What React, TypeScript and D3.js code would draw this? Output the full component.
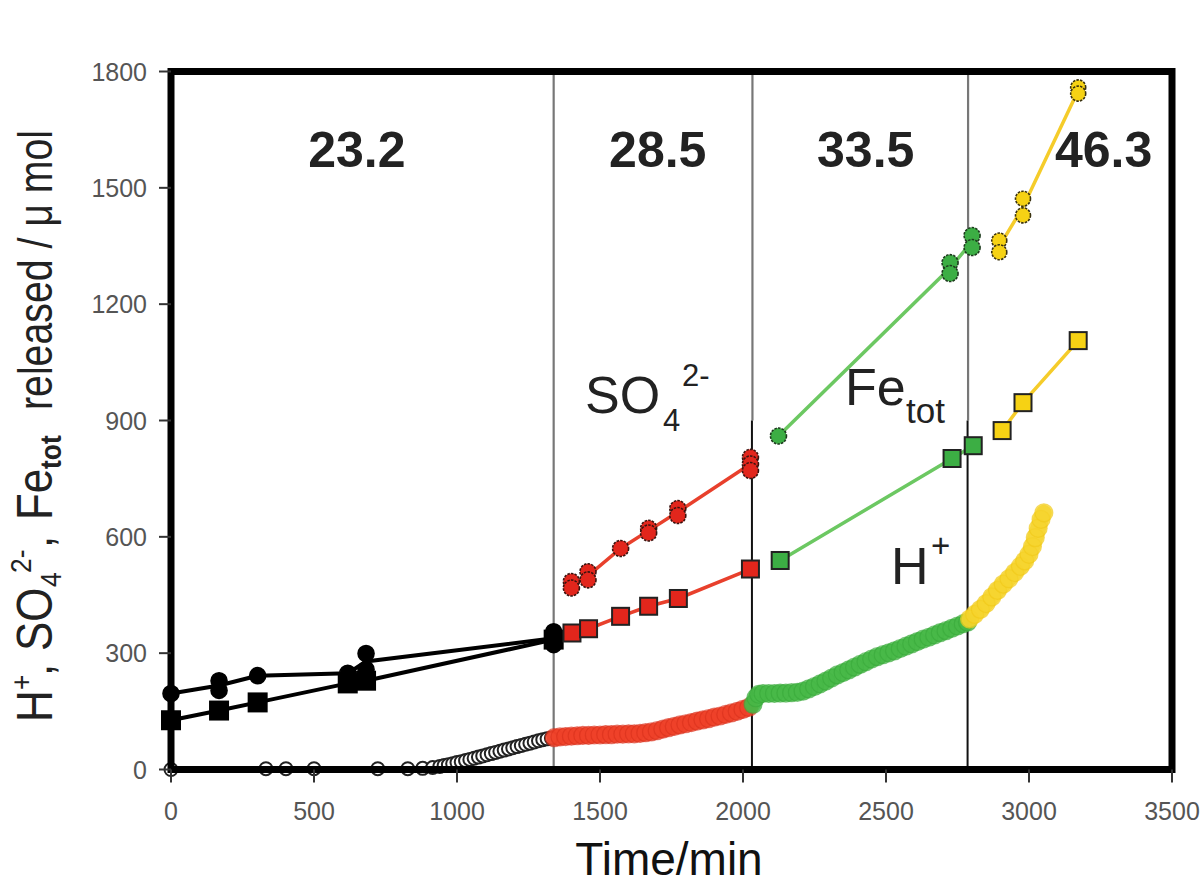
import React from 'react';
import * as d3 from 'd3';

type P = [number, number];

const xTicks = [0, 500, 1000, 1500, 2000, 2500, 3000, 3500];
const yTicks = [0, 300, 600, 900, 1200, 1500, 1800];

const dividerTimes = [1338, 2033, 2787];
const dividerBlackBelow = [0, 900, 900];
const regionLabels = ['23.2', '28.5', '33.5', '46.3'];
const regionCenters = [650, 1702, 2429, 3261];

// SO4 2- (circles) and Fe_tot (squares) per temperature segment
const so4Black: P[] = [[0, 196], [168, 229], [168, 204], [303, 242], [618, 248], [682, 299], [682, 258], [1338, 355], [1338, 322]];
const feBlack: P[] = [[0, 127], [168, 152], [303, 173], [618, 222], [682, 229], [1338, 335]];
const so4Red: P[] = [[1400, 485], [1400, 468], [1458, 510], [1458, 489], [1572, 570], [1670, 622], [1670, 610], [1772, 673], [1772, 655], [2026, 805], [2026, 788], [2026, 771]];
const feRed: P[] = [[1402, 352], [1460, 363], [1572, 395], [1670, 421], [1774, 441], [2026, 517]];
const so4Green: P[] = [[2124, 860], [2724, 1307], [2724, 1279], [2801, 1377], [2801, 1346]];
const feGreen: P[] = [[2130, 539], [2731, 802], [2805, 835]];
const so4Yellow: P[] = [[2896, 1364], [2896, 1334], [2979, 1472], [2979, 1429], [3172, 1759], [3172, 1743]];
const feYellow: P[] = [[2906, 874], [2979, 946], [3172, 1106]];

// H+ released
const hBlack: P[] = [[0, 0], [332, 2], [402, 2], [500, 2], [723, 2], [828, 2], [880, 3], [915, 5], [940, 8], [955, 10], [970, 12], [985, 15], [1000, 18], [1015, 20], [1030, 23], [1045, 26], [1060, 29], [1075, 32], [1090, 35], [1105, 38], [1120, 41], [1135, 44], [1150, 47], [1165, 50], [1180, 53], [1195, 56], [1210, 59], [1225, 62], [1240, 65], [1255, 68], [1270, 71], [1285, 74], [1300, 77], [1315, 79], [1330, 81]];
const hRed: P[] = [[1340, 82], [1360, 84], [1380, 85], [1400, 86], [1420, 87], [1440, 88], [1460, 88], [1480, 89], [1500, 89], [1520, 90], [1540, 90], [1560, 91], [1580, 91], [1600, 92], [1620, 92], [1640, 93], [1660, 95], [1680, 97], [1700, 100], [1720, 104], [1740, 108], [1760, 111], [1780, 115], [1800, 118], [1820, 121], [1840, 125], [1860, 128], [1880, 131], [1900, 135], [1920, 138], [1940, 142], [1960, 146], [1980, 150], [2000, 155], [2020, 160]];
const hGreen: P[] = [[2035, 168], [2045, 185], [2055, 194], [2070, 196], [2090, 196], [2110, 196], [2130, 197], [2150, 197], [2170, 198], [2190, 199], [2210, 202], [2230, 208], [2250, 214], [2270, 221], [2290, 228], [2310, 236], [2330, 244], [2350, 250], [2370, 257], [2390, 264], [2410, 271], [2430, 278], [2450, 285], [2470, 291], [2490, 296], [2510, 301], [2530, 306], [2550, 312], [2570, 318], [2590, 324], [2610, 330], [2630, 336], [2650, 341], [2670, 347], [2690, 353], [2710, 358], [2730, 364], [2750, 370], [2770, 376], [2785, 380]];
const hYellow: P[] = [[2792, 388], [2810, 400], [2830, 413], [2850, 428], [2870, 445], [2890, 462], [2910, 478], [2930, 492], [2950, 508], [2970, 524], [2985, 538], [3000, 555], [3012, 575], [3022, 598], [3032, 622], [3042, 645], [3052, 662]];

// y-axis title pieces: text, start position along axis (px), size, offset across baseline, bold
const yTitlePieces: [string, number, number, number, boolean][] = [
  ['H', 722, 50, 0, false],
  ['+', 690, 30, -20, false],
  [',', 676, 50, 0, false],
  ['SO', 651, 50, 0, false],
  ['4', 587, 30, 9, false],
  ['2-', 573, 30, -21, false],
  [',', 548, 50, 0, false],
  ['Fe', 520, 50, 0, false],
  ['tot', 469, 30, 9, true],
];
const yTitleTail = 'released / μ mol';

const FONT = '"Liberation Sans", Arial, Helvetica, sans-serif';

const x = d3.scaleLinear().domain([0, 3500]).range([171, 1172]);
const y = d3.scaleLinear().domain([0, 1800]).range([769.5, 71.5]);

const meanLine = (pts: P[]): P[] =>
  d3.rollups(pts, (v) => d3.mean(v, (d) => d[1]) as number, (d) => d[0])
    .sort((a, b) => a[0] - b[0]) as P[];

const lineGen = d3.line<P>().x((d) => x(d[0])).y((d) => y(d[1]));

const segments = [
  { circ: so4Black, sq: feBlack, line: '#000', fill: '#000', stroke: '#000', lw: 4, r: 8, s: 18, dash: undefined as string | undefined },
  { circ: so4Red, sq: feRed, line: '#e8402c', fill: '#e2261c', stroke: '#3a1410', lw: 3.5, r: 8, s: 17, dash: '2.5 1.2' },
  { circ: so4Green, sq: feGreen, line: '#6cc862', fill: '#3cae44', stroke: '#1d3a1d', lw: 3.5, r: 8, s: 17, dash: '2.5 1.2' },
  { circ: so4Yellow, sq: feYellow, line: '#f5cc2a', fill: '#f6d214', stroke: '#3a3210', lw: 3.5, r: 7.5, s: 17, dash: '2.5 1.2' },
];

const hBands = [
  { pts: hRed, fill: '#ee4028', stroke: '#d8301c' },
  { pts: hGreen, fill: '#46b846', stroke: '#38a83a' },
  { pts: hYellow, fill: '#f6d42c', stroke: '#f0c818' },
];

const BASE_X = 52;

export default function App() {
  return (
    <svg width={1200} height={888} viewBox="0 0 1200 888"
      style={{ position: 'absolute', left: 0, top: 0, background: '#fff' }}
      fontFamily={FONT}>
      <rect x={0} y={0} width={1200} height={888} fill="#fff" />

      {/* dividers */}
      {dividerTimes.map((t, i) => (
        <g key={'div' + i}>
          <line x1={x(t)} x2={x(t)} y1={y(1800)} y2={y(dividerBlackBelow[i])} stroke="#777" strokeWidth={2.2} />
          {dividerBlackBelow[i] > 0 && (
            <line x1={x(t) - 0.5} x2={x(t) - 0.5} y1={y(dividerBlackBelow[i])} y2={y(0)} stroke="#111" strokeWidth={2} />
          )}
        </g>
      ))}

      {/* H+ black open markers */}
      {hBlack.map((d, i) => (
        <circle key={'hb' + i} cx={x(d[0])} cy={y(d[1])} r={6.5} fill="#fff" stroke="#222" strokeWidth={2} />
      ))}
      {/* H+ colored bands */}
      {hBands.map((b, bi) => (
        <g key={'hband' + bi}>
          <path d={lineGen(b.pts) || ''} fill="none" stroke={b.fill} strokeWidth={16} strokeLinecap="round" opacity={0.85} />
          {b.pts.map((d, i) => (
            <circle key={i} cx={x(d[0])} cy={y(d[1])} r={9} fill={b.fill} fillOpacity={0.65} stroke={b.stroke} strokeOpacity={0.6} strokeWidth={1.2} />
          ))}
        </g>
      ))}

      {/* lines */}
      {segments.map((s, si) => (
        <g key={'ln' + si} fill="none" stroke={s.line} strokeWidth={s.lw}>
          <path d={lineGen(meanLine(s.circ)) || ''} />
          <path d={lineGen(meanLine(s.sq)) || ''} />
        </g>
      ))}

      {/* frame and ticks */}
      <rect x={x(0)} y={y(1800)} width={x(3500) - x(0)} height={y(0) - y(1800)} fill="none" stroke="#000" strokeWidth={7} />
      {xTicks.map((t) => (
        <g key={'xt' + t}>
          <line x1={x(t)} x2={x(t)} y1={y(0)} y2={y(0) + 13} stroke="#333" strokeWidth={2} />
          <text x={x(t)} y={820} textAnchor="middle" fontSize={25} fill="#555">{t}</text>
        </g>
      ))}
      {yTicks.map((v) => (
        <g key={'yt' + v}>
          <line x1={x(0) - 12} x2={x(0)} y1={y(v)} y2={y(v)} stroke="#333" strokeWidth={2} />
          <text x={147} y={y(v)} dy="0.36em" textAnchor="end" fontSize={25} fill="#555">{v}</text>
        </g>
      ))}

      {/* markers */}
      {segments.map((s, si) => (
        <g key={'mk' + si}>
          {s.circ.map((d, i) => (
            <circle key={'c' + i} cx={x(d[0])} cy={y(d[1])} r={s.r} fill={s.fill} stroke={s.stroke} strokeWidth={1.6} strokeDasharray={s.dash} />
          ))}
          {s.sq.map((d, i) => (
            <rect key={'s' + i} x={x(d[0]) - s.s / 2} y={y(d[1]) - s.s / 2} width={s.s} height={s.s} fill={s.fill} stroke={si === 0 ? '#000' : '#222'} strokeWidth={2} />
          ))}
        </g>
      ))}

      {/* region labels */}
      {regionLabels.map((l, i) => (
        <text key={'rl' + i} x={x(regionCenters[i])} y={167} textAnchor="middle" fontSize={50} fontWeight="bold" fill="#222">{l}</text>
      ))}

      {/* species labels */}
      <text x={585} y={413} fontSize={52} fill="#222">SO</text>
      <text x={663} y={431} fontSize={31} fill="#222">4</text>
      <text x={682} y={386} fontSize={31} fill="#222">2-</text>
      <text x={845} y={405} fontSize={52} fill="#222">Fe</text>
      <text x={906} y={423} fontSize={35} fill="#222">tot</text>
      <text x={891} y={584} fontSize={52} fill="#222">H</text>
      <text x={931} y={557} fontSize={33} fill="#222">+</text>

      {/* axis titles */}
      <text x={669} y={875} textAnchor="middle" fontSize={46} fill="#111">Time/min</text>
      <g fill="#222">
        {yTitlePieces.map(([t, start, size, off, bold], i) => (
          <text key={'yp' + i} transform={`translate(${BASE_X + off},${start}) rotate(-90) scale(0.88,1)`}
            fontSize={size} fontWeight={bold ? 'bold' : 'normal'}>{t}</text>
        ))}
        <text transform={`translate(${BASE_X},410) rotate(-90)`} fontSize={48}
          textLength={280} lengthAdjust="spacingAndGlyphs">{yTitleTail}</text>
      </g>
    </svg>
  );
}
